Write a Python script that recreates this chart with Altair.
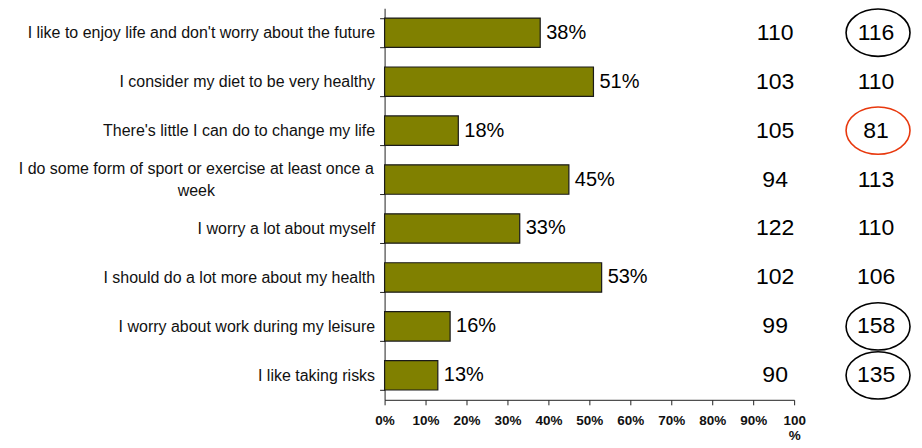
import altair as alt
import pandas as pd

statements = [
    "I like to enjoy life and don't worry about the future",
    "I consider my diet to be very healthy",
    "There's little I can do to change my life",
    "I do some form of sport or exercise at least once a week",
    "I worry a lot about myself",
    "I should do a lot more about my health",
    "I worry about work during my leisure",
    "I like taking risks",
]
share_pct = [38, 51, 18, 45, 33, 53, 16, 13]
index_a = [110, 103, 105, 94, 122, 102, 99, 90]
index_b = [116, 110, 81, 113, 110, 106, 158, 135]
highlight = ["high", "", "low", "", "", "", "high", "high"]
x_ticks = [0, 0.1, 0.2, 0.3, 0.4, 0.5, 0.6, 0.7, 0.8, 0.9, 1.0]

df = pd.DataFrame({
    "statement": statements,
    "share": [v / 100 for v in share_pct],
    "label": [f"{v}%" for v in share_pct],
    "idx_a": [str(v) for v in index_a],
    "idx_b": [str(v) for v in index_b],
    "hl": highlight,
})

FONT = "Liberation Sans"
long_label = statements[3]
is_long = f"datum.value == \"{long_label}\""

y_enc = alt.Y(
    "statement:N",
    sort=statements,
    scale=alt.Scale(paddingInner=0.4, paddingOuter=0.2),
    axis=alt.Axis(
        title=None,
        tickBand="extent",
        tickSize=5,
        tickColor="#222222",
        domainColor="#222222",
        labelFont=FONT,
        labelFontSize=16,
        labelColor="#111111",
        labelLimit=400,
        labelLineHeight=22,
        labelPadding={"condition": {"test": is_long, "value": 184}, "value": 5},
        labelAlign={"condition": {"test": is_long, "value": "center"}, "value": "right"},
        labelOffset={"condition": {"test": is_long, "value": -11}, "value": 0},
        labelExpr=f"{is_long} ? ['I do some form of sport or exercise at least once a', 'week'] : datum.label",
        grid=False,
    ),
)

x_enc = alt.X(
    "share:Q",
    scale=alt.Scale(domain=[0, 1], nice=False),
    axis=alt.Axis(
        title=None,
        values=x_ticks,
        format=".0%",
        tickSize=5,
        tickColor="#222222",
        domainColor="#222222",
        labelFont=FONT,
        labelFontSize=13.5,
        labelFontWeight="bold",
        labelColor="#111111",
        labelPadding=9,
        labelLineHeight=15,
        labelFlush=False,
        labelOverlap=False,
        labelExpr="datum.value == 1 ? ['100', '%'] : datum.label",
        grid=False,
    ),
)

base = alt.Chart(df)

bars = base.mark_bar(color="#808000", stroke="#1a1a1a", strokeWidth=1.2).encode(
    x=x_enc, y=y_enc
)

bar_text = base.mark_text(
    align="left", baseline="middle", dx=6, font=FONT, fontSize=20, color="#000000"
).encode(x="share:Q", y=alt.Y("statement:N", sort=statements), text="label:N")

col_a = base.mark_text(
    align="center", baseline="middle", font=FONT, fontSize=23, color="#000000"
).encode(x=alt.value(391), y=alt.Y("statement:N", sort=statements), text="idx_a:N")

col_b = base.mark_text(
    align="center", baseline="middle", font=FONT, fontSize=23, color="#000000"
).encode(x=alt.value(492), y=alt.Y("statement:N", sort=statements), text="idx_b:N")

ellipse_path = "M -1 0 A 1 0.74 0 1 0 1 0 A 1 0.74 0 1 0 -1 0 Z"
rings = base.transform_filter("datum.hl != ''").mark_point(
    shape=ellipse_path, size=4096, filled=False, strokeWidth=1.6, opacity=1
).encode(
    x=alt.value(494),
    y=alt.Y("statement:N", sort=statements),
    color=alt.Color(
        "hl:N",
        scale=alt.Scale(domain=["high", "low"], range=["#000000", "#e8380d"]),
        legend=None,
    ),
)

chart = (
    alt.layer(bars, bar_text, col_a, col_b, rings)
    .properties(
        width=410,
        height=392,
        autosize=alt.AutoSizeParams(type="none"),
        padding={"left": 377, "top": 0, "right": 120, "bottom": 48},
        background="#ffffff",
    )
    .configure_view(stroke=None)
)

chart.save("out.html", embed_options={"renderer": "svg", "actions": False})
